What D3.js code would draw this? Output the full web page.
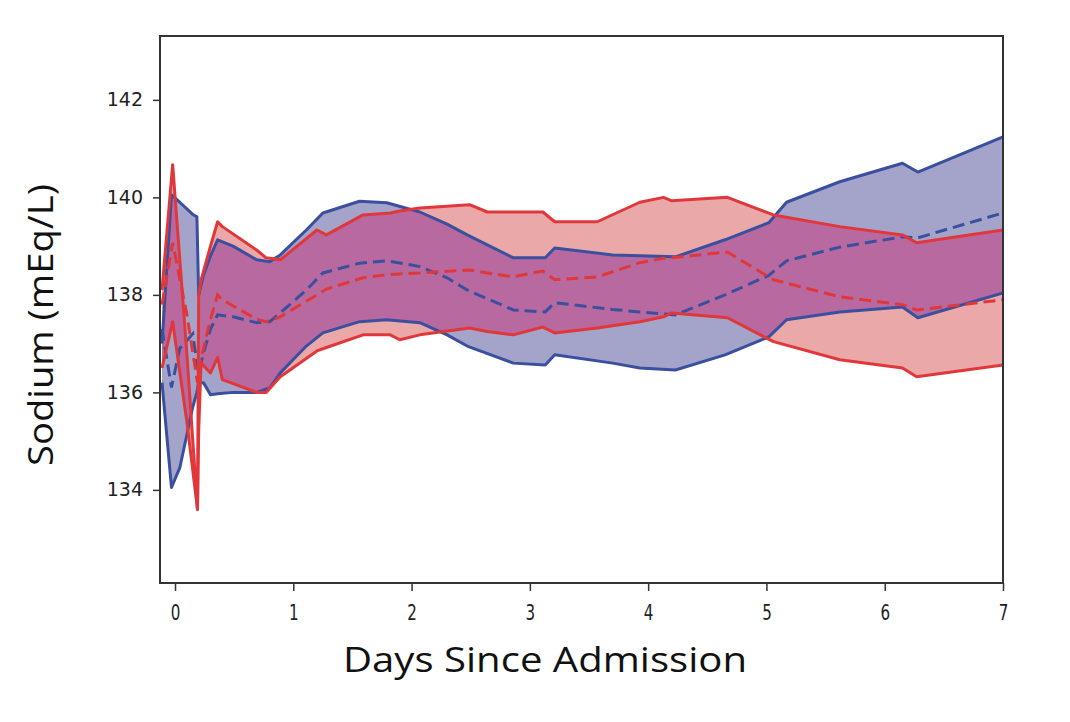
<!DOCTYPE html>
<html>
<head>
<meta charset="utf-8">
<script src="https://cdn.jsdelivr.net/npm/d3@7"></script>
<style>
  body { margin: 0; background: #fff; }
  svg { display: block; }
  .tick text { font-family: "DejaVu Sans", sans-serif; fill: #222; }
</style>
</head>
<body>
<svg id="chart" width="1070" height="722"></svg>
<script>
// blue cohort: days, lower bound, mean, upper bound
var blueDays  = [-0.11, -0.03, 0.04, 0.15, 0.185, 0.2, 0.24, 0.3, 0.36, 0.49, 0.69, 0.8, 0.89, 1.11, 1.25, 1.56, 1.79, 2.07, 2.3, 2.47, 2.86, 3.13, 3.21, 3.7, 3.93, 4.23, 4.65, 5.02, 5.17, 5.62, 6.15, 6.28, 7.0];
var blueUpper = [137.0, 140.05, 139.9, 139.65, 139.6, 138.0, 138.4, 138.8, 139.13, 139.0, 138.72, 138.68, 138.82, 139.33, 139.68, 139.92, 139.89, 139.7, 139.45, 139.23, 138.76, 138.76, 138.96, 138.82, 138.8, 138.78, 139.13, 139.48, 139.9, 140.32, 140.7, 140.52, 141.24];
var blueMean  = [137.3, 136.1, 136.9, 137.2, 136.6, 136.4, 136.8, 137.3, 137.59, 137.55, 137.43, 137.45, 137.63, 138.1, 138.45, 138.65, 138.7, 138.58, 138.35, 138.1, 137.69, 137.65, 137.84, 137.7, 137.65, 137.59, 138.0, 138.4, 138.7, 138.98, 139.19, 139.17, 139.68];
var blueLower = [136.2, 134.05, 134.45, 135.7, 136.0, 136.2, 136.2, 135.95, 135.97, 136.0, 136.0, 136.09, 136.4, 136.95, 137.22, 137.45, 137.49, 137.43, 137.18, 136.95, 136.6, 136.56, 136.77, 136.6, 136.5, 136.46, 136.77, 137.14, 137.49, 137.65, 137.75, 137.53, 138.04];

// red cohort
var redDays  = [-0.11, -0.02, 0.1, 0.19, 0.2, 0.22, 0.3, 0.36, 0.4, 0.69, 0.77, 0.89, 1.2, 1.28, 1.59, 1.82, 1.9, 2.07, 2.49, 2.64, 2.86, 3.11, 3.21, 3.57, 3.93, 4.13, 4.2, 4.67, 5.06, 5.62, 6.15, 6.27, 7.0];
var redUpper = [138.1, 140.67, 136.8, 133.6, 138.0, 138.3, 139.0, 139.5, 139.4, 138.92, 138.76, 138.72, 139.33, 139.23, 139.64, 139.68, 139.72, 139.78, 139.85, 139.7, 139.7, 139.7, 139.5, 139.5, 139.9, 140.0, 139.93, 140.0, 139.64, 139.4, 139.23, 139.07, 139.33];
var redMean  = [137.8, 139.07, 137.6, 136.2, 136.4, 136.7, 137.5, 138.0, 137.9, 137.5, 137.45, 137.55, 138.0, 138.12, 138.35, 138.42, 138.43, 138.45, 138.51, 138.45, 138.37, 138.49, 138.31, 138.37, 138.66, 138.75, 138.76, 138.88, 138.31, 137.96, 137.8, 137.69, 137.9];
var redLower = [136.5, 137.45, 135.4, 133.6, 135.2, 136.6, 136.4, 136.72, 136.26, 136.0, 136.0, 136.32, 136.85, 136.92, 137.18, 137.18, 137.08, 137.18, 137.32, 137.25, 137.18, 137.34, 137.22, 137.32, 137.45, 137.55, 137.63, 137.53, 137.04, 136.67, 136.5, 136.32, 136.56];

var xTicks = [0, 1, 2, 3, 4, 5, 6, 7];
var yTicks = [134, 136, 138, 140, 142];

var margin = {top: 36, right: 67, bottom: 139, left: 160};
var width = 1070 - margin.left - margin.right;
var height = 722 - margin.top - margin.bottom;

var colors = {
	blueLine: '#3b4f9f', blueFill: '#a4a4ca',
	redLine: '#e0383a', redFill: '#eaa8a8',
	overlap: '#b86aa0'
};

var svg = d3.select('#chart');
var g = svg.append('g').attr('transform', 'translate(' + margin.left + ',' + margin.top + ')');

var x = d3.scaleLinear().domain([-0.127, 7]).range([0, width]);
var y = d3.scaleLinear().domain([132.09, 143.31]).range([height, 0]);

var rows = function(days, lo, mid, hi) {
	return days.map(function(d, i) { return {day: d, lo: lo[i], mid: mid[i], hi: hi[i]}; });
};
var blue = rows(blueDays, blueLower, blueMean, blueUpper);
var red = rows(redDays, redLower, redMean, redUpper);

var band = d3.area().x(d => x(d.day)).y0(d => y(d.lo)).y1(d => y(d.hi));
var lineOf = function(key) { return d3.line().x(d => x(d.day)).y(d => y(d[key])); };

var defs = svg.append('defs');
defs.append('clipPath').attr('id', 'plotClip')
	.append('rect').attr('width', width).attr('height', height);
defs.append('clipPath').attr('id', 'blueBand')
	.append('path').attr('d', band(blue));

var plot = g.append('g').attr('clip-path', 'url(#plotClip)');

plot.append('path').attr('d', band(blue)).attr('fill', colors.blueFill);
plot.append('path').attr('d', band(red)).attr('fill', colors.redFill);
// where the two bands overlap
plot.append('g').attr('clip-path', 'url(#blueBand)')
	.append('path').attr('d', band(red)).attr('fill', colors.overlap);

var drawLines = function(data, color) {
	['lo', 'hi'].forEach(function(k) {
		plot.append('path').attr('d', lineOf(k)(data))
			.attr('fill', 'none').attr('stroke', color).attr('stroke-width', 3)
			.attr('stroke-linejoin', 'round');
	});
	plot.append('path').attr('d', lineOf('mid')(data))
		.attr('fill', 'none').attr('stroke', color).attr('stroke-width', 3)
		.attr('stroke-dasharray', '12,6');
};
drawLines(blue, colors.blueLine);
drawLines(red, colors.redLine);

// axes
var xAxis = g.append('g').attr('transform', 'translate(0,' + height + ')')
	.call(d3.axisBottom(x).tickValues(xTicks).tickSize(8).tickPadding(14).tickFormat(d3.format('d')));
xAxis.selectAll('text').style('font-size', '21px').attr('transform', 'scale(0.72,1)');
var yAxis = g.append('g')
	.call(d3.axisLeft(y).tickValues(yTicks).tickSize(7).tickPadding(10).tickFormat(d3.format('d')));
yAxis.selectAll('text').style('font-size', '19px');
[xAxis, yAxis].forEach(function(a) {
	a.select('.domain').remove();
	a.selectAll('line').attr('stroke', '#333').attr('stroke-width', 1.5);
});

g.append('rect').attr('width', width).attr('height', height)
	.attr('fill', 'none').attr('stroke', '#333').attr('stroke-width', 2);

svg.append('text')
	.attr('x', 545).attr('y', 672)
	.attr('text-anchor', 'middle')
	.attr('textLength', 404).attr('lengthAdjust', 'spacingAndGlyphs')
	.style('font-family', '"Open Sans", sans-serif').style('font-size', '35px').style('fill', '#111')
	.text('Days Since Admission');

svg.append('text')
	.attr('transform', 'translate(53,325) rotate(-90)')
	.attr('text-anchor', 'middle')
	.attr('textLength', 282).attr('lengthAdjust', 'spacingAndGlyphs')
	.style('font-family', '"Open Sans", sans-serif').style('font-size', '35px').style('fill', '#111')
	.text('Sodium (mEq/L)');
</script>
</body>
</html>
